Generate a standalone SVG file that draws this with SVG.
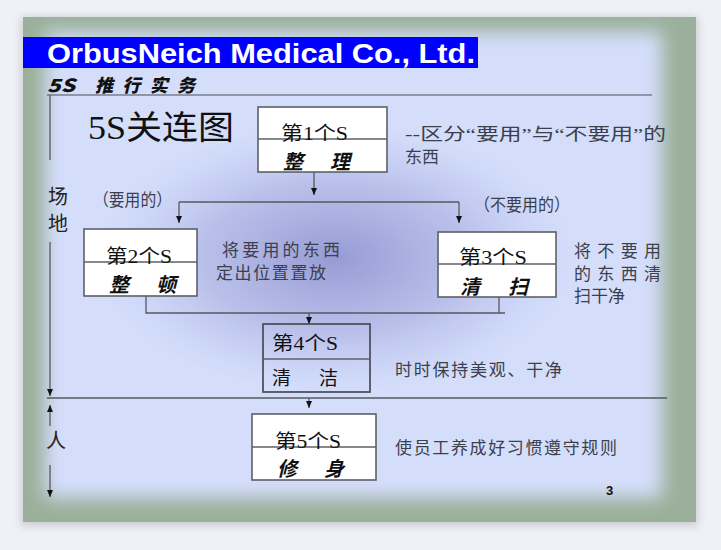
<svg xmlns="http://www.w3.org/2000/svg" width="721" height="550" viewBox="0 0 721 550">
<style>
.ln{stroke:#55585f;stroke-width:1.3;fill:none}
.box{fill:#ffffff;stroke:#5e6068;stroke-width:1.6}
.box4{fill:none;stroke:#50525a;stroke-width:1.8}
.div{stroke:#5e6068;stroke-width:1.3}
.t{font-family:"Liberation Serif","Noto Sans CJK SC",serif;font-size:19px;fill:#111}
.it{font-family:"Liberation Serif","Noto Sans CJK SC",serif;font-size:20px;font-style:italic;font-weight:bold;fill:#111}
.d{font-family:"Liberation Serif","Noto Sans CJK SC",serif;font-size:17px;fill:#3c3f4c}
.side{font-family:"Liberation Serif","Noto Sans CJK SC",serif;font-size:20px;fill:#222}
.hd{font-family:"Noto Sans CJK SC",sans-serif;font-weight:900;font-style:italic;font-size:18px;fill:#111}
</style>
<defs>
<marker id="ah" markerUnits="userSpaceOnUse" markerWidth="8" markerHeight="7" refX="7" refY="3" orient="auto">
<path d="M0,0 L7,3 L0,6 z" fill="#111"/>
</marker>
<filter id="blur" x="-10%" y="-10%" width="120%" height="120%"><feGaussianBlur stdDeviation="9"/></filter>
<filter id="sh" x="-5%" y="-5%" width="110%" height="110%"><feGaussianBlur stdDeviation="4"/></filter>
<radialGradient id="rg" cx="0.5" cy="0.5" r="0.5">
<stop offset="0" stop-color="#8f93cf" stop-opacity="0.9"/>
<stop offset="0.55" stop-color="#9ca1d8" stop-opacity="0.5"/>
<stop offset="1" stop-color="#b0b8e8" stop-opacity="0"/>
</radialGradient>
<clipPath id="cl"><rect x="23" y="17" width="673" height="505"/></clipPath>
</defs>
<rect width="721" height="550" fill="#f0f1f6"/>
<rect x="21" y="17" width="677" height="509" fill="#c9ccd6" filter="url(#sh)"/>
<g clip-path="url(#cl)">
<rect x="23" y="17" width="673" height="505" fill="#9bb09a"/>
<rect x="45" y="32" width="617" height="466" fill="#d4defb" filter="url(#blur)"/>
<ellipse cx="335" cy="258" rx="240" ry="135" fill="url(#rg)"/>
</g>
<rect x="23" y="37" width="455" height="31" fill="#0000ff"/>
<text x="47" y="63" font-family="Liberation Sans,Arial,sans-serif" font-weight="bold" font-size="28" fill="#ffffff" textLength="428" lengthAdjust="spacingAndGlyphs">OrbusNeich Medical Co., Ltd.</text>
<text class="hd" x="47" y="92" textLength="28" lengthAdjust="spacingAndGlyphs">5S</text>
<text class="hd" x="95" y="92" textLength="100" lengthAdjust="spacing">推行实务</text>
<line x1="47" y1="95" x2="652" y2="95" stroke="#4a4f5a" stroke-width="1.2"/>
<text x="88" y="139" font-family="Liberation Serif,Noto Sans CJK SC,serif" font-size="33" fill="#111" textLength="146" lengthAdjust="spacingAndGlyphs">5S关连图</text>
<text class="side" x="48" y="204">场</text>
<text class="side" x="48" y="231">地</text>
<text class="side" x="46" y="448">人</text>
<g id="connectors">
<path class="ln" d="M50,95 V160"/>
<path class="ln" d="M50,242 V396" marker-end="url(#ah)"/>
<path class="ln" d="M47,398 H667"/>
<path class="ln" d="M50,426 V405" marker-end="url(#ah)"/>
<path class="ln" d="M50,465 V497" marker-end="url(#ah)"/>
<path class="ln" d="M314,172 V195" marker-end="url(#ah)"/>
<path class="ln" d="M179,202 H459"/>
<path class="ln" d="M179,202 V223" marker-end="url(#ah)"/>
<path class="ln" d="M459,202 V223" marker-end="url(#ah)"/>
<path class="ln" d="M146,296 V313 H505"/>
<path class="ln" d="M499,297 V313"/>
<path class="ln" d="M309,313 V324" marker-end="url(#ah)"/>
<path class="ln" d="M309,398 V408" marker-end="url(#ah)"/>
</g>
<g id="n1">
<rect class="box" x="258" y="107" width="129" height="65"/>
<line class="div" x1="258" y1="139" x2="387" y2="139"/>
<text class="t" x="281" y="140" textLength="67" lengthAdjust="spacingAndGlyphs">第1个S</text>
<text class="it" x="283" y="169" textLength="67" lengthAdjust="spacing">整 理</text>
</g>
<text class="d" x="405" y="140" textLength="261" lengthAdjust="spacingAndGlyphs">--区分“要用”与“不要用”的</text>
<text class="d" x="405" y="163">东西</text>
<text class="d" x="93" y="206" textLength="79" lengthAdjust="spacingAndGlyphs">（要用的）</text>
<text class="d" x="474" y="211" textLength="96" lengthAdjust="spacingAndGlyphs">（不要用的）</text>
<g id="n2">
<rect class="box" x="84" y="229" width="113" height="67"/>
<line class="div" x1="84" y1="262" x2="197" y2="262"/>
<text class="t" x="106" y="263" textLength="66" lengthAdjust="spacingAndGlyphs">第2个S</text>
<text class="it" x="109" y="292" textLength="67" lengthAdjust="spacing">整 顿</text>
</g>
<text class="d" x="222" y="256" textLength="118" lengthAdjust="spacing">将要用的东西</text>
<text class="d" x="216" y="279" textLength="110" lengthAdjust="spacing">定出位置置放</text>
<g id="n3">
<rect class="box" x="438" y="232" width="118" height="65"/>
<line class="div" x1="438" y1="264" x2="556" y2="264"/>
<text class="t" x="459" y="264" textLength="68" lengthAdjust="spacingAndGlyphs">第3个S</text>
<text class="it" x="460" y="294" textLength="68" lengthAdjust="spacing">清 扫</text>
</g>
<text class="d" x="574" y="257" textLength="87" lengthAdjust="spacing">将不要用</text>
<text class="d" x="574" y="280" textLength="87" lengthAdjust="spacing">的东西清</text>
<text class="d" x="574" y="302">扫干净</text>
<g id="n4">
<rect class="box4" x="263" y="324" width="107" height="68"/>
<line class="div" x1="263" y1="359" x2="370" y2="359" stroke="#50525a" stroke-width="1.6"/>
<text class="t" x="272" y="350" textLength="66" lengthAdjust="spacingAndGlyphs">第4个S</text>
<text class="t" x="272" y="385" textLength="66" lengthAdjust="spacing">清 洁</text>
</g>
<text class="d" x="395" y="376" textLength="167" lengthAdjust="spacing">时时保持美观、干净</text>
<g id="n5">
<rect class="box" x="252" y="414" width="124" height="66"/>
<line class="div" x1="252" y1="447" x2="376" y2="447"/>
<text class="t" x="275" y="448" textLength="66" lengthAdjust="spacingAndGlyphs">第5个S</text>
<text class="it" x="277" y="476" textLength="67" lengthAdjust="spacing">修 身</text>
</g>
<text class="d" x="395" y="454" textLength="222" lengthAdjust="spacing">使员工养成好习惯遵守规则</text>
<text x="606" y="495" font-family="Liberation Sans,Arial,sans-serif" font-weight="bold" font-size="13" fill="#111">3</text>
</svg>
